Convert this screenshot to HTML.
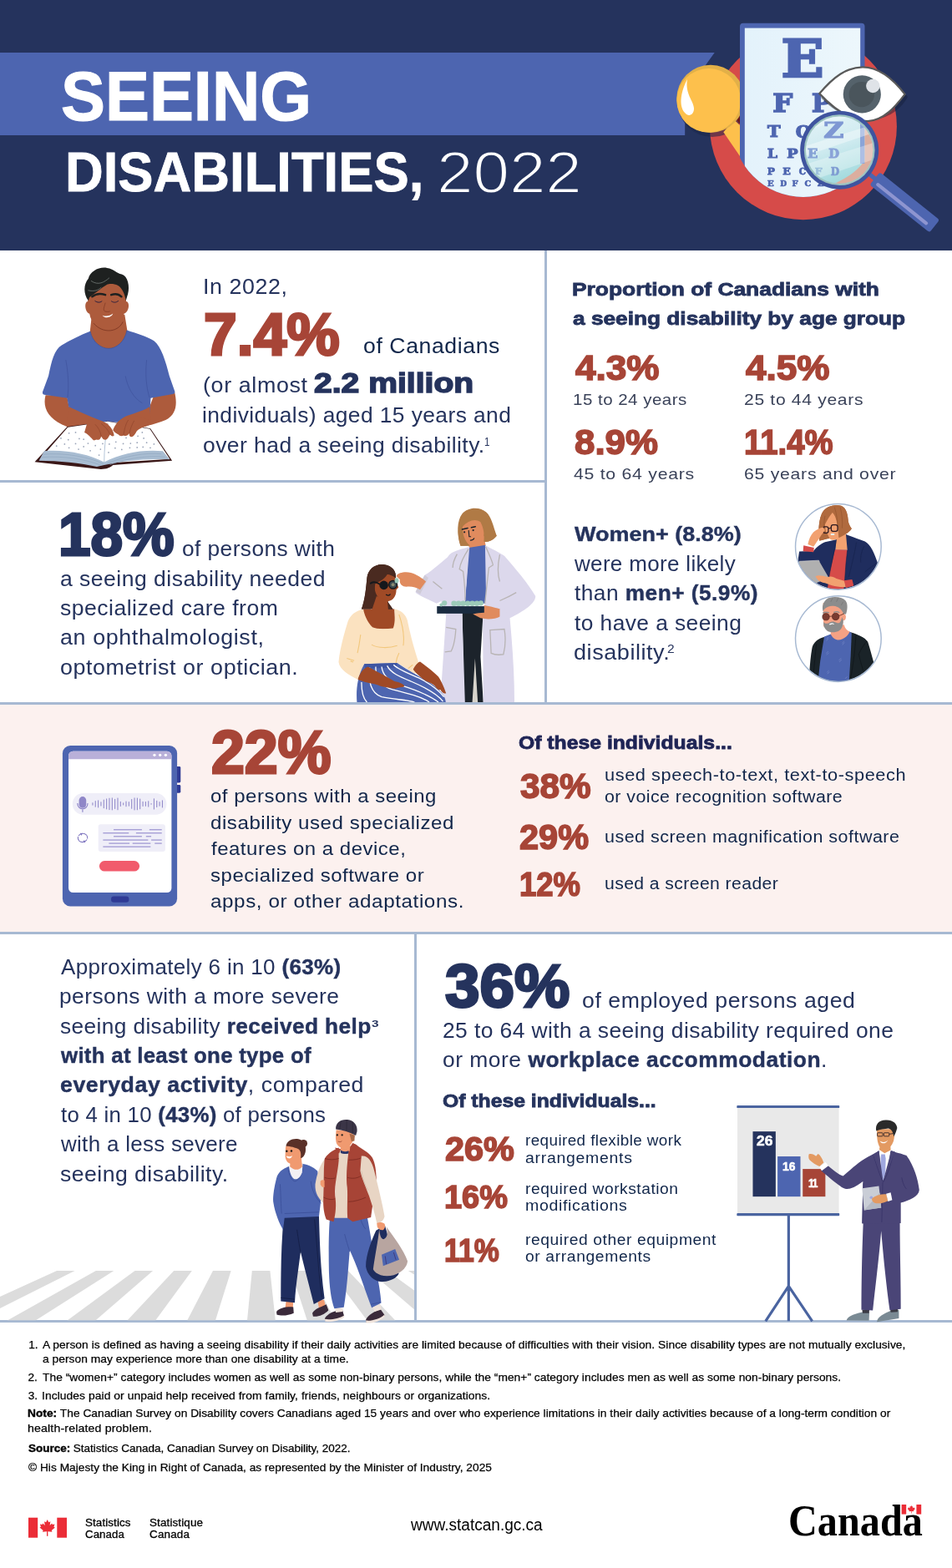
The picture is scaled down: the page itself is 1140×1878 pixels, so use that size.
<!DOCTYPE html>
<html lang="en">
<head>
<meta charset="utf-8">
<title>Seeing disabilities, 2022</title>
<style>
html,body{margin:0;padding:0;background:#fff;}
body{width:1140px;height:1878px;overflow:hidden;font-family:"Liberation Sans",sans-serif;}
#page{position:relative;width:1140px;height:1878px;overflow:hidden;background:#fff;}
#art{position:absolute;left:0;top:0;display:block;}
.t{position:absolute;white-space:nowrap;color:#25335d;font-weight:400;transform-origin:0 50%;margin:0;padding:0;}
.t b{font-weight:700;-webkit-text-stroke:0.4px currentColor;}
.b{font-weight:700;}

</style>
</head>
<body>
<div id="page">
<svg id="art" width="1140" height="1878" viewBox="0 0 1140 1878">
<!-- base -->
<g id="base">
<rect x="0" y="0" width="1140" height="300" fill="#25335d"/>
<polygon points="0,63 855.7,63 820.2,112.6 820.2,162 0,162" fill="#4d65b0"/>
<rect x="0" y="843" width="1140" height="275" fill="#fcf1ef"/>
<g fill="#a7b9d2">
<rect x="652" y="300" width="3" height="543"/>
<rect x="0" y="575" width="653" height="3"/>
<rect x="0" y="841" width="1140" height="3"/>
<rect x="0" y="1116" width="1140" height="3"/>
<rect x="496" y="1118" width="3" height="465"/>
<rect x="0" y="1581" width="1140" height="3"/>
</g>
</g>

<!-- header -->
<g id="header-art">
<defs>
<clipPath id="paperclip"><path d="M880,20 H1045 V151.2 A84.8,84.8 0 0 1 1046.7,151.2 L1046.7,151.2 A84.8,84.8 0 0 1 877.1,151.2 L880,151.2 Z"/></clipPath>
<clipPath id="lensclip"><circle cx="1005.2" cy="179.7" r="40.2"/></clipPath>
<linearGradient id="glass" x1="0" y1="0" x2="0.35" y2="1"><stop offset="0" stop-color="#e4f3f8"/><stop offset="0.55" stop-color="#cdeaef"/><stop offset="1" stop-color="#a4dbde"/></linearGradient>
<linearGradient id="paperg" x1="0" y1="0" x2="1" y2="0"><stop offset="0" stop-color="#e3f2fb"/><stop offset="1" stop-color="#edf7fc"/></linearGradient>
</defs>
<circle cx="961.9" cy="151.2" r="112" fill="#d64b49"/>
<ellipse cx="853" cy="124" rx="41" ry="40" fill="#1c2748" opacity="0.55"/>
<path d="M866.3,158.2 L879,143.2 L887,151 L887,188.5 Z" fill="#fdc04c"/>
<path d="M881,141.5 L887,139 L887,150 Z" fill="#6b1a1a"/>
<circle cx="850.8" cy="118.3" r="40.6" fill="#e2b048"/>
<circle cx="848.7" cy="120.3" r="38.3" fill="#fdc04c"/>
<path d="M823,95 C816,108 812,126 820,135 C825,141 831,137 831,130 C831,121 820,113 823,95 Z" fill="#ffffff"/>
<g clip-path="url(#paperclip)">
<rect x="886" y="27.8" width="149.5" height="230" rx="4" fill="#4d65b0"/>
<rect x="891.8" y="33.6" width="138.4" height="230" fill="url(#paperg)"/>
</g>
<g clip-path="url(#paperclip)">
<text transform="translate(935.56,91.60) scale(0.6698,0.6128)" font-family="'DejaVu Serif', 'Liberation Serif', serif" font-weight="bold" font-size="100" fill="#4d65b0" stroke="#4d65b0" stroke-width="4.05" stroke-linejoin="miter">E</text>
<text transform="translate(925.22,133.50) scale(0.3368,0.2914)" font-family="'DejaVu Serif', 'Liberation Serif', serif" font-weight="bold" font-size="100" fill="#4d65b0" stroke="#4d65b0" stroke-width="5.09" stroke-linejoin="miter">F</text>
<text transform="translate(972.04,133.50) scale(0.3113,0.2914)" font-family="'DejaVu Serif', 'Liberation Serif', serif" font-weight="bold" font-size="100" fill="#4d65b0" stroke="#4d65b0" stroke-width="5.31" stroke-linejoin="miter">P</text>
<text transform="translate(918.90,164.40) scale(0.2097,0.1920)" font-family="'DejaVu Serif', 'Liberation Serif', serif" font-weight="bold" font-size="100" fill="#4d65b0" stroke="#4d65b0" stroke-width="5.97" stroke-linejoin="miter">T</text>
<text transform="translate(952.63,164.70) scale(0.2158,0.1960)" font-family="'DejaVu Serif', 'Liberation Serif', serif" font-weight="bold" font-size="100" fill="#4d65b0" stroke="#4d65b0" stroke-width="5.83" stroke-linejoin="miter">O</text>
<text transform="translate(918.68,189.10) scale(0.1748,0.1539)" font-family="'DejaVu Serif', 'Liberation Serif', serif" font-weight="bold" font-size="100" fill="#4d65b0" stroke="#4d65b0" stroke-width="6.08" stroke-linejoin="miter">L</text>
<text transform="translate(942.27,189.10) scale(0.1775,0.1539)" font-family="'DejaVu Serif', 'Liberation Serif', serif" font-weight="bold" font-size="100" fill="#4d65b0" stroke="#4d65b0" stroke-width="6.04" stroke-linejoin="miter">P</text>
<text transform="translate(918.83,208.60) scale(0.1222,0.1157)" font-family="'DejaVu Serif', 'Liberation Serif', serif" font-weight="bold" font-size="100" fill="#4d65b0" stroke="#4d65b0" stroke-width="6.72" stroke-linejoin="miter">P</text>
<text transform="translate(937.21,208.60) scale(0.1250,0.1157)" font-family="'DejaVu Serif', 'Liberation Serif', serif" font-weight="bold" font-size="100" fill="#4d65b0" stroke="#4d65b0" stroke-width="6.65" stroke-linejoin="miter">E</text>
<text transform="translate(956.77,208.70) scale(0.1043,0.1160)" font-family="'DejaVu Serif', 'Liberation Serif', serif" font-weight="bold" font-size="100" fill="#4d65b0" stroke="#4d65b0" stroke-width="7.26" stroke-linejoin="miter">C</text>
<text transform="translate(918.81,223.10) scale(0.1042,0.0885)" font-family="'DejaVu Serif', 'Liberation Serif', serif" font-weight="bold" font-size="100" fill="#4d65b0" stroke="#4d65b0" stroke-width="6.23" stroke-linejoin="miter">E</text>
<text transform="translate(934.17,223.10) scale(0.0909,0.0885)" font-family="'DejaVu Serif', 'Liberation Serif', serif" font-weight="bold" font-size="100" fill="#4d65b0" stroke="#4d65b0" stroke-width="6.69" stroke-linejoin="miter">D</text>
<text transform="translate(948.54,223.10) scale(0.0990,0.0885)" font-family="'DejaVu Serif', 'Liberation Serif', serif" font-weight="bold" font-size="100" fill="#4d65b0" stroke="#4d65b0" stroke-width="6.40" stroke-linejoin="miter">F</text>
<text transform="translate(963.50,223.20) scale(0.0974,0.0893)" font-family="'DejaVu Serif', 'Liberation Serif', serif" font-weight="bold" font-size="100" fill="#4d65b0" stroke="#4d65b0" stroke-width="6.43" stroke-linejoin="miter">C</text>
<text transform="translate(978.77,223.10) scale(0.1057,0.0885)" font-family="'DejaVu Serif', 'Liberation Serif', serif" font-weight="bold" font-size="100" fill="#4d65b0" stroke="#4d65b0" stroke-width="6.18" stroke-linejoin="miter">Z</text>
<text transform="translate(993.82,223.10) scale(0.1018,0.0885)" font-family="'DejaVu Serif', 'Liberation Serif', serif" font-weight="bold" font-size="100" fill="#4d65b0" stroke="#4d65b0" stroke-width="6.30" stroke-linejoin="miter">P</text>
</g>
<path d="M983,117 C1002,92 1062,84 1087,116 C1068,150 1020,156 983,117 Z" fill="#131c38" opacity="0.45"/>
<path d="M981.3,112.1 C998,92 1014,80.5 1033,80.3 C1052,80.5 1070,95 1083.6,112.9 C1072,128 1058,144.5 1039,145.2 C1018,144.5 998,130 981.3,112.1 Z" fill="#ffffff" stroke="#595959" stroke-width="2.3" stroke-linejoin="round"/>
<circle cx="1032.3" cy="112.9" r="22.6" fill="#55626b"/>
<circle cx="1031.8" cy="113.1" r="15.2" fill="#4a555c"/>
<circle cx="1045.3" cy="103" r="8.2" fill="#dfe3e8"/>
<g transform="translate(1047.5,213.7) rotate(38.66)">
<rect x="-12" y="-2.6" width="16" height="5.2" fill="#4d65b0"/>
<rect x="0" y="-9.7" width="91.6" height="19.4" rx="3" fill="#4d65b0"/>
<rect x="5.5" y="1.3" width="78.1" height="4.2" rx="2.1" fill="#8e95d0"/>
</g>
<circle cx="1005.2" cy="179.7" r="47" fill="#3f549f"/>
<circle cx="1005.2" cy="179.7" r="42.4" fill="#9dc4c1"/>
<circle cx="1005.2" cy="179.7" r="40.2" fill="url(#glass)"/>
<g clip-path="url(#lensclip)">
<path d="M1035.3,130 H1060 V240 H960 V225 A84.8,84.8 0 0 0 1035.3,193 Z" fill="#dcae9f"/>
<rect x="1030" y="130" width="5.3" height="66" fill="#8aa4d8"/>
<path d="M955,178 L1055,146 L1055,156 L955,190 Z" fill="#ffffff" opacity="0.38"/>
<path d="M955,200 L1055,168 L1055,188 L955,222 Z" fill="#ffffff" opacity="0.30"/>
<path d="M955,150 L1055,120 L1055,128 L955,160 Z" fill="#ffffff" opacity="0.25"/>
<text transform="translate(986.16,165.10) scale(0.3319,0.2628)" font-family="'DejaVu Serif', 'Liberation Serif', serif" font-weight="bold" font-size="100" fill="#7f98d3" stroke="#7f98d3" stroke-width="4.71" stroke-linejoin="miter">Z</text>
<text transform="translate(966.89,189.35) scale(0.1622,0.1552)" font-family="'DejaVu Serif', 'Liberation Serif', serif" font-weight="bold" font-size="100" fill="#86a3d6" stroke="#86a3d6" stroke-width="5.67" stroke-linejoin="miter">E</text>
<text transform="translate(992.36,189.35) scale(0.1472,0.1552)" font-family="'DejaVu Serif', 'Liberation Serif', serif" font-weight="bold" font-size="100" fill="#8aa3d8" stroke="#8aa3d8" stroke-width="5.95" stroke-linejoin="miter">D</text>
<text transform="translate(975.77,209.15) scale(0.1234,0.1144)" font-family="'DejaVu Serif', 'Liberation Serif', serif" font-weight="bold" font-size="100" fill="#9cc0dc" stroke="#9cc0dc" stroke-width="5.89" stroke-linejoin="miter">F</text>
<text transform="translate(995.11,209.65) scale(0.1152,0.1212)" font-family="'DejaVu Serif', 'Liberation Serif', serif" font-weight="bold" font-size="100" fill="#7f9bd2" stroke="#7f9bd2" stroke-width="5.92" stroke-linejoin="miter">D</text>
</g>
</g>

<!-- man -->
<g id="man" transform="translate(30,310) scale(0.175439)">
<!-- arms (behind shirt) -->
<path d="M140,930 C120,1010 150,1080 250,1130 C330,1165 400,1190 440,1215 L470,1240 L560,1235 L605,1200 C600,1160 580,1130 540,1115 C470,1085 360,1040 300,1010 L285,930 Z" fill="#ad5b3c"/>
<path d="M1020,905 C1040,990 1035,1060 960,1100 C900,1125 830,1140 770,1160 L725,1210 L640,1205 L600,1170 C610,1130 650,1090 700,1070 C760,1050 820,1030 850,1010 L880,930 Z" fill="#ad5b3c"/>
<!-- neck -->
<path d="M456,380 L680,380 L698,492 C682,572 622,616 570,616 C518,616 458,572 443,498 Z" fill="#ad5b3c"/>
<!-- shirt -->
<path d="M445,495 C460,570 520,612 570,612 C620,612 680,570 695,488 C760,510 830,530 880,560 C930,600 960,700 985,800 L1022,905 C1024,915 1018,922 1008,924 L858,950 L848,1090 L838,1140 C760,1110 700,1110 640,1116 L430,1114 L300,1020 L287,950 L132,928 C122,926 118,918 120,908 L160,800 C180,700 200,620 250,590 C310,555 380,520 445,495 Z" fill="#4d65b0"/>
<path d="M445,495 C460,570 520,612 570,612 C620,612 680,570 695,488" fill="none" stroke="#3c509a" stroke-width="4"/>
<path d="M278,690 C295,780 300,870 290,948 M830,690 C820,780 825,870 850,948 M685,800 C700,880 740,950 800,985" fill="none" stroke="#3c509a" stroke-width="3.5"/>
<!-- hands over shirt -->
<path d="M300,1010 C360,1040 470,1085 540,1115 C580,1130 600,1160 605,1200 L590,1215 L560,1235 L520,1232 L470,1240 L430,1205 C400,1180 340,1160 280,1140 Z" fill="#ad5b3c"/>
<path d="M850,1010 C820,1030 760,1050 700,1070 C650,1090 610,1130 600,1170 L640,1205 L680,1200 L725,1210 L770,1160 C800,1150 830,1140 860,1130 Z" fill="#ad5b3c"/>
<path d="M470,1120 L520,1180 M505,1115 L555,1175 M700,1090 L660,1150 M735,1095 L690,1160" stroke="#8c4229" stroke-width="4" fill="none"/>
<!-- face -->
<path d="M428,290 C405,290 405,360 440,375 C450,440 510,488 572,488 C635,488 665,440 675,375 C715,360 715,290 690,290 L680,150 L440,150 Z" fill="#ad5b3c"/>
<path d="M468,440 C500,478 540,490 572,490 C610,490 650,470 668,430" fill="none" stroke="#7e3722" stroke-width="5"/>
<!-- hair -->
<path d="M432,285 C398,240 398,175 432,135 C445,85 505,52 560,62 C605,68 625,98 660,106 C702,118 716,190 702,240 L688,286 C682,240 662,200 635,182 C605,168 575,170 558,176 C520,198 478,236 440,262 Z" fill="#1e2120"/>
<path d="M450,150 C500,185 540,160 575,130 M430,215 C470,225 500,215 520,195" fill="none" stroke="#6b726f" stroke-width="5"/>
<!-- brows, eyes, nose, mouth -->
<path d="M458,258 C485,236 520,236 548,246 M588,246 C615,236 640,240 658,258" fill="none" stroke="#1e2120" stroke-width="14" stroke-linecap="round"/>
<path d="M478,288 C495,300 510,300 524,290 M590,290 C605,300 620,300 636,288" fill="none" stroke="#1b1840" stroke-width="5" stroke-linecap="round"/>
<path d="M548,300 C540,330 530,350 545,358 C555,362 570,362 580,358" fill="none" stroke="#7e3722" stroke-width="4"/>
<path d="M528,386 C550,395 580,392 600,374 C592,400 548,412 528,386 Z" fill="#ffffff"/>
<!-- book -->
<path d="M66,1386 L288,1146 L565,1108 L856,1158 L1004,1378 L600,1408 C580,1428 540,1442 490,1434 Z" fill="#3a1717"/>
<path d="M100,1370 L292,1150 L565,1110 L852,1162 L988,1366 L545,1395 Z" fill="#ffffff"/>
<path d="M130,1312 C270,1300 430,1330 540,1388 C660,1325 800,1300 940,1312 L988,1370 C830,1360 660,1380 540,1408 L490,1420 C380,1395 230,1378 95,1378 Z" fill="#a9bdd2"/>
<path d="M120,1335 C270,1322 430,1350 535,1400 M110,1355 C260,1342 420,1370 520,1410 M560,1398 C680,1345 820,1322 930,1332 M580,1405 C700,1360 840,1342 955,1352" fill="none" stroke="#8ea5be" stroke-width="3.5"/>
<path d="M565,1120 C550,1200 540,1300 540,1390" fill="none" stroke="#a9bdd2" stroke-width="5"/>
<g fill="#9aa4b8">
<circle cx="300" cy="1190" r="5"/><circle cx="345" cy="1185" r="5"/><circle cx="245" cy="1225" r="5"/><circle cx="295" cy="1235" r="5"/><circle cx="370" cy="1228" r="5"/><circle cx="400" cy="1232" r="5"/>
<circle cx="215" cy="1278" r="5"/><circle cx="270" cy="1265" r="5"/><circle cx="345" cy="1262" r="5"/><circle cx="430" cy="1260" r="5"/><circle cx="480" cy="1275" r="5"/><circle cx="300" cy="1290" r="5"/>
<circle cx="365" cy="1300" r="5"/><circle cx="400" cy="1282" r="5"/><circle cx="445" cy="1310" r="5"/><circle cx="515" cy="1300" r="5"/><circle cx="505" cy="1340" r="5"/><circle cx="530" cy="1262" r="5"/>
<circle cx="575" cy="1265" r="5"/><circle cx="620" cy="1250" r="5"/><circle cx="670" cy="1262" r="5"/><circle cx="720" cy="1260" r="5"/><circle cx="765" cy="1255" r="5"/><circle cx="810" cy="1225" r="5"/>
<circle cx="770" cy="1210" r="5"/><circle cx="830" cy="1255" r="5"/><circle cx="880" cy="1265" r="5"/><circle cx="615" cy="1292" r="5"/><circle cx="660" cy="1302" r="5"/><circle cx="715" cy="1290" r="5"/>
<circle cx="765" cy="1288" r="5"/><circle cx="805" cy="1285" r="5"/><circle cx="855" cy="1290" r="5"/><circle cx="570" cy="1322" r="5"/><circle cx="800" cy="1185" r="5"/><circle cx="690" cy="1222" r="5"/>
</g>
<!-- hands on top of book -->
<path d="M430,1100 C470,1090 520,1100 560,1125 C590,1150 605,1180 608,1205 C600,1215 590,1212 580,1200 C570,1215 565,1232 548,1236 C535,1236 528,1225 520,1212 C515,1232 500,1240 488,1234 L470,1240 C450,1222 430,1195 405,1185 Z" fill="#ad5b3c"/>
<path d="M600,1170 C612,1130 650,1090 700,1075 C750,1065 800,1080 840,1100 L830,1140 C800,1150 770,1165 760,1180 C750,1200 735,1222 720,1214 C712,1210 710,1200 712,1192 C700,1210 685,1212 672,1205 C660,1212 645,1210 638,1200 C628,1195 615,1190 600,1170 Z" fill="#ad5b3c"/>
<path d="M478,1130 C500,1150 515,1180 520,1212 M520,1125 C545,1145 570,1170 580,1200 M705,1100 C690,1120 678,1160 672,1205 M745,1105 C730,1130 718,1160 712,1192" fill="none" stroke="#8c4229" stroke-width="3.5"/>
</g>

<!-- doctor -->
<g id="doctor" transform="translate(400,600) scale(0.219298)">
<defs><clipPath id="docclip"><rect x="0" y="0" width="1140" height="1099"/></clipPath></defs>
<g clip-path="url(#docclip)">
<!-- ===== doctor ===== -->
<!-- hair back -->
<path d="M690,245 C670,180 670,110 700,70 C730,35 790,30 830,60 C860,85 870,140 888,190 C870,215 840,225 815,222 L800,120 L720,120 L740,245 Z" fill="#b07a45"/>
<!-- neck -->
<path d="M740,200 L820,190 L830,260 L735,262 Z" fill="#e08b5e"/>
<!-- face -->
<path d="M700,130 C700,100 740,85 790,95 C815,100 825,130 822,160 C822,200 800,235 765,245 C735,250 712,225 705,195 Z" fill="#e08b5e"/>
<path d="M682,135 C680,95 705,50 760,42 C805,38 835,62 850,100 C862,140 872,172 888,190 C862,220 832,226 818,222 C822,185 818,150 800,115 C770,95 735,105 700,142 Z" fill="#b07a45"/>
<path d="M692,245 C675,200 676,160 684,128 L702,140 C700,180 714,220 742,244 Z" fill="#b07a45"/>
<path d="M700,155 L730,148 M750,145 L772,140" stroke="#1c232b" stroke-width="7" stroke-linecap="round"/>
<circle cx="712" cy="170" r="5" fill="#1c232b"/><circle cx="760" cy="160" r="5" fill="#1c232b"/>
<path d="M735,160 L738,195 L748,195" fill="none" stroke="#1c232b" stroke-width="5"/>
<path d="M745,215 C755,215 762,210 765,204" fill="none" stroke="#1c232b" stroke-width="5" stroke-linecap="round"/>
<!-- pants -->
<path d="M700,600 L815,600 L800,850 L815,1099 L710,1099 Z" fill="#1c232b"/>
<path d="M770,860 L785,1099 L755,1099 Z" fill="#d8d4cc"/>
<!-- shirt -->
<path d="M735,255 L828,240 L835,560 L715,560 Z" fill="#4d65b0"/>
<!-- coat body -->
<path d="M740,250 C700,262 660,272 640,285 C600,310 600,400 595,470 L585,560 L612,620 C600,800 590,950 580,1099 L715,1099 L700,620 L718,520 Z" fill="#dcd8ec"/>
<path d="M825,242 C860,262 900,280 930,300 C990,370 1060,450 1100,520 C1100,560 1040,600 960,640 C975,800 985,950 985,1099 L815,1099 L812,620 L830,520 Z" fill="#dcd8ec"/>
<!-- arm reaching to patient -->
<path d="M650,285 C600,320 540,380 495,405 L445,500 C470,520 520,540 560,560 L640,520 Z" fill="#dcd8ec"/>
<path d="M495,405 L445,495 L470,510 L515,420 Z" fill="#cfcbd8"/>
<!-- hand -->
<path d="M340,410 C350,390 390,385 420,392 C450,400 480,420 502,440 L470,485 C450,470 420,465 395,468 C370,468 355,450 360,430 Z" fill="#e08b5e"/>
<!-- coat lines -->
<path d="M735,262 C710,300 690,340 685,372 L705,385 C712,440 716,500 716,545 M828,250 C850,300 865,330 868,350 L845,365 C838,430 830,500 824,560 M672,290 C655,320 648,345 648,365 M905,292 C895,340 892,400 905,440 M540,440 L590,480 M905,545 C940,530 970,515 995,500" fill="none" stroke="#b8b4b4" stroke-width="6"/>
<path d="M612,690 L665,700 C662,750 655,790 640,820 L605,825 M852,705 L930,700 C938,750 935,800 925,838 C900,842 875,840 858,832 Z" fill="none" stroke="#b8b4b4" stroke-width="6"/>
<!-- tray -->
<rect x="562" y="575" width="260" height="40" fill="#1a2b40"/>
<g fill="#9ccab9"><circle cx="603" cy="558" r="14"/><circle cx="655" cy="560" r="15"/><circle cx="680" cy="560" r="15"/><circle cx="705" cy="560" r="15"/><circle cx="730" cy="560" r="15"/><circle cx="755" cy="560" r="15"/><circle cx="780" cy="560" r="15"/><circle cx="802" cy="558" r="14"/><circle cx="585" cy="568" r="9"/></g>
<!-- right hand under tray -->
<path d="M820,570 C850,575 890,585 912,592 L908,630 C880,645 840,650 800,640 L758,618 C780,612 800,612 820,610 Z" fill="#e08b5e"/>
<path d="M905,590 C925,580 935,585 940,600 C945,620 940,650 935,660 L905,655 Z" fill="#dcd8ec"/>
<!-- ===== patient ===== -->
<!-- hair -->
<path d="M150,590 C170,540 175,470 180,420 C185,370 230,340 275,348 C320,355 340,385 338,420 L300,430 L285,540 L322,592 Z" fill="#4a2a20"/>
<!-- neck & chest -->
<path d="M160,590 L330,590 L335,700 L160,700 Z" fill="#a04a26"/>
<!-- face -->
<path d="M222,470 C222,430 260,395 300,400 C330,405 340,425 342,445 L352,472 L340,486 C340,520 322,548 290,548 C255,548 222,520 222,470 Z" fill="#a04a26"/>
<path d="M232,520 L295,545 L300,600 L205,600 Z" fill="#a04a26"/>
<path d="M180,420 C185,370 230,340 275,348 C320,355 338,385 338,420 C320,410 300,400 290,402 C270,430 250,440 225,450 C220,500 210,550 200,590 L150,590 C170,540 175,470 180,420 Z" fill="#4a2a20"/>
<path d="M292,548 L322,592 L296,592 Z" fill="#4a2a20"/>
<!-- glasses -->
<path d="M200,450 C215,440 235,445 250,455" fill="none" stroke="#15181c" stroke-width="9" stroke-linecap="round"/>
<circle cx="272" cy="460" r="24" fill="#15181c"/>
<circle cx="322" cy="457" r="22" fill="#3a4a50" stroke="#15181c" stroke-width="7"/>
<circle cx="322" cy="457" r="9" fill="#8a8a70"/>
<ellipse cx="342" cy="435" rx="11" ry="14" fill="#9ccab9"/>
<path d="M285,512 C295,518 302,516 306,510" fill="none" stroke="#15181c" stroke-width="6" stroke-linecap="round"/>
<!-- top -->
<path d="M160,592 C120,600 90,620 75,660 C50,740 30,820 25,880 C30,920 80,950 130,975 L160,900 L165,890 L345,885 C370,900 420,930 440,945 L470,905 C450,850 420,750 400,650 C390,615 360,595 330,590 C335,640 330,680 322,695 C280,700 230,700 210,690 C180,660 165,620 160,592 Z" fill="#fbe2c0"/>
<path d="M355,620 C375,680 385,740 378,790 M205,785 C240,805 300,805 345,790 M145,730 C140,770 135,800 128,830 M355,830 C345,850 340,870 338,885 M70,860 L110,872 M90,875 L105,880 M430,895 L405,915" fill="none" stroke="#f2c77c" stroke-width="5"/>
<!-- skirt -->
<path d="M165,890 L345,885 C380,910 450,950 520,990 C580,1030 610,1070 610,1099 L125,1099 C120,1040 125,960 165,890 Z" fill="#4d65b0"/>
<path d="M165,890 L345,885 L340,910 L170,915 Z" fill="#3f56a2"/>
<path d="M150,990 C150,1040 160,1080 180,1099 M195,910 C185,980 200,1050 260,1070 C330,1085 400,1085 440,1099 M228,905 C225,960 250,1010 320,1030 C400,1050 480,1070 520,1099 M260,905 C265,950 300,985 360,1005 C440,1030 520,1060 570,1099 M290,900 C310,940 360,960 420,985 C490,1015 560,1050 595,1095 M325,895 C350,920 400,940 460,965 C510,990 570,1030 600,1070" fill="none" stroke="#ffffff" stroke-width="6"/>
<!-- hands on lap -->
<path d="M130,975 C140,940 160,915 185,905 C230,930 290,960 330,985 C360,990 380,1000 385,1012 C370,1020 350,1015 335,1025 C300,1020 260,1015 240,1005 C200,995 160,990 130,975 Z" fill="#a04a26"/>
<path d="M432,920 C445,895 460,880 470,878 C500,900 540,930 570,960 C590,990 605,1030 612,1050 C600,1055 590,1045 580,1030 C570,1035 560,1025 550,1010 C540,1000 520,990 505,985 C480,970 450,945 432,920 Z" fill="#a04a26"/>
</g>
</g>

<!-- circles -->
<g id="circles">
<defs>
<clipPath id="cw"><circle cx="560" cy="525" r="446"/></clipPath>
<clipPath id="cm"><circle cx="560" cy="527" r="446"/></clipPath>
</defs>
<!-- woman -->
<g transform="translate(940,595) scale(0.114035)">
<circle cx="560" cy="525" r="450" fill="#ffffff"/>
<g clip-path="url(#cw)">
<!-- hair back -->
<path d="M360,460 C350,380 350,260 385,180 C420,100 520,75 590,95 C650,115 660,200 665,260 C675,300 690,320 700,335 C670,380 610,410 560,430 L450,440 Z" fill="#b06a3e"/>
<!-- neck -->
<path d="M535,400 L650,395 L660,560 L530,560 Z" fill="#f2a170"/>
<!-- face -->
<path d="M420,300 C420,230 460,170 500,165 L560,250 L565,420 C540,455 500,460 475,445 C440,420 425,360 420,300 Z" fill="#f2a170"/>
<!-- hair front -->
<path d="M500,165 C470,200 440,250 415,300 C400,350 380,420 362,462 C350,380 350,260 385,180 C420,100 520,75 590,95 C650,115 660,200 665,260 C675,300 690,320 700,335 C670,380 610,410 565,432 C560,380 555,300 540,250 C530,210 515,180 500,165 Z" fill="#b06a3e"/>
<path d="M362,462 C400,455 440,440 465,430 L440,380 L400,390 Z" fill="#b06a3e"/>
<path d="M520,110 C540,170 550,240 552,300 M580,110 C600,180 605,260 600,330 M420,200 C410,250 408,300 410,330" fill="none" stroke="#8f4f2a" stroke-width="5"/>
<!-- glasses -->
<rect x="400" y="315" width="55" height="65" rx="18" fill="none" stroke="#2a1820" stroke-width="11"/>
<rect x="485" y="295" width="68" height="68" rx="20" fill="none" stroke="#2a1820" stroke-width="11"/>
<path d="M455,335 L485,325" stroke="#2a1820" stroke-width="9"/>
<rect x="480" y="385" width="40" height="18" rx="6" fill="#e8f0f8"/>
<!-- blazer -->
<path d="M640,395 C700,420 780,445 840,470 C900,500 940,600 975,700 L990,980 L100,980 L140,640 L150,575 L300,568 C330,530 380,490 420,475 L540,450 L530,560 L655,560 Z" fill="#1f2d5e"/>
<!-- red top -->
<path d="M525,555 L655,560 L640,700 L620,980 L440,980 L470,800 Z" fill="#d64b49"/>
<path d="M540,450 L470,800 L440,980 M655,560 L640,700 L620,980 M750,480 C730,600 700,720 670,840 M830,520 C800,580 790,640 795,690 M960,700 C900,740 860,770 840,790" fill="none" stroke="#15214a" stroke-width="5"/>
<!-- raised hand -->
<path d="M240,500 C250,450 270,400 300,370 C330,345 370,325 400,320 L420,350 C400,380 380,400 370,420 C350,450 320,490 300,525 Z" fill="#f2a170"/>
<path d="M195,510 L305,535 L300,580 L190,572 Z" fill="#d64b49"/>
<!-- tablet -->
<path d="M150,678 L355,668 L460,850 L330,905 L250,980 L100,980 Z" fill="#b0b0b0"/>
<path d="M150,678 L355,668 L362,680" fill="none" stroke="#d0d0d0" stroke-width="6"/>
<!-- lower hand -->
<path d="M320,835 C350,820 400,830 450,845 C480,830 510,840 540,860 L630,885 L640,950 C560,950 480,930 420,905 C380,900 340,880 320,835 Z" fill="#f2a170"/>
<path d="M620,880 L705,868 L722,935 L640,955 Z" fill="#d64b49"/>
</g>
<circle cx="560" cy="525" r="450" fill="none" stroke="#a7b9d2" stroke-width="13"/>
</g>
<!-- man -->
<g transform="translate(940,705) scale(0.114035)">
<circle cx="560" cy="527" r="450" fill="#ffffff"/>
<g clip-path="url(#cm)">
<!-- jacket -->
<path d="M410,508 C350,525 300,560 285,620 C270,700 262,800 255,900 L250,990 L950,990 L930,770 C910,700 890,620 870,560 C840,510 760,480 690,458 Z" fill="#1a2328"/>
<!-- shirt -->
<path d="M412,505 L480,478 L680,452 L700,470 L690,700 L672,990 L345,990 L370,760 Z" fill="#4d65b0"/>
<path d="M745,480 C740,600 720,780 690,940 M860,550 C820,600 790,650 775,690 C790,760 810,820 820,860 M330,580 C320,680 310,780 300,880" fill="none" stroke="#0c1216" stroke-width="5"/>
<path d="M435,530 L455,508 M435,548 L458,522 M600,575 L622,550 M602,592 L625,565 M432,680 L455,658 M437,697 L462,672 M565,755 L590,730 M568,772 L595,745 M440,880 L462,860 M445,897 L468,874 M630,945 L655,925" stroke="#7d90cc" stroke-width="5" fill="none"/>
<!-- neck -->
<path d="M480,400 L620,380 C630,420 650,440 680,452 C660,500 610,540 555,540 C520,535 495,510 480,478 Z" fill="#f4a184"/>
<!-- face -->
<path d="M400,150 L610,150 L615,265 C640,262 645,300 635,320 C628,335 618,335 612,332 L605,400 L405,400 Z" fill="#f4a184"/>
<!-- beard -->
<path d="M405,350 C420,370 450,372 470,355 C490,340 520,345 545,360 C570,370 590,350 598,300 L612,330 C612,380 600,420 570,440 C530,465 470,465 440,440 C415,420 402,390 405,350 Z" fill="#8c8c8c"/>
<path d="M462,378 C475,360 500,355 518,372 C510,380 500,372 490,374 C480,376 472,384 462,378 Z" fill="#ffffff"/>
<!-- hair -->
<path d="M395,215 C390,160 420,110 470,95 C530,80 600,90 635,125 C665,160 655,230 640,270 L612,262 C600,220 560,185 510,182 C460,182 420,195 400,240 Z" fill="#8c8c8c"/>
<path d="M500,100 L480,140 M560,95 L540,140 M610,140 L590,175" stroke="#6f6f6f" stroke-width="5"/>
<path d="M400,255 C415,245 440,245 458,252 M515,248 C535,240 555,242 568,250" fill="none" stroke="#8c8c8c" stroke-width="12" stroke-linecap="round"/>
<!-- sunglasses -->
<circle cx="430" cy="296" r="36" fill="#7a3b30" stroke="#5a2a22" stroke-width="7"/>
<circle cx="532" cy="294" r="36" fill="#7a3b30" stroke="#5a2a22" stroke-width="7"/>
<path d="M466,292 L496,290 M568,286 L622,262" stroke="#5a2a22" stroke-width="7"/>
</g>
<circle cx="560" cy="527" r="450" fill="none" stroke="#a7b9d2" stroke-width="13"/>
</g>
</g>

<!-- tablet -->
<g id="tablet" transform="translate(60,880) scale(0.149123)">
<rect x="1010" y="255" width="38" height="130" rx="10" fill="#2e3a95"/>
<rect x="1010" y="403" width="38" height="65" rx="10" fill="#2e3a95"/>
<rect x="100" y="88" width="920" height="1290" rx="62" fill="#4d65b0"/>
<rect x="148" y="132" width="827" height="1136" rx="36" fill="#ffffff"/>
<path d="M148,196 V168 A36,36 0 0 1 184,132 H939 A36,36 0 0 1 975,168 V196 Z" fill="#b9b0d9"/>
<circle cx="838" cy="163" r="11" fill="#fff"/><circle cx="883" cy="163" r="11" fill="#fff"/><circle cx="928" cy="163" r="11" fill="#fff"/>
<rect x="490" y="1297" width="143" height="50" rx="22" fill="#2e3a95"/>
<rect x="180" y="470" width="755" height="172" rx="86" fill="#efeef8"/>
<rect x="232" y="497" width="58" height="92" rx="29" fill="#8f87c8"/>
<path d="M220,550 C220,610 302,610 302,550" fill="none" stroke="#8f87c8" stroke-width="8"/>
<path d="M261,598 V622" stroke="#8f87c8" stroke-width="8"/>
<rect x="338" y="545" width="7" height="22" fill="#8f87c8"/>
<rect x="360.4" y="531" width="7" height="50" fill="#8f87c8"/>
<rect x="382.79999999999995" y="526" width="7" height="60" fill="#8f87c8"/>
<rect x="405.19999999999993" y="539" width="7" height="34" fill="#8f87c8"/>
<rect x="427.5999999999999" y="521" width="7" height="70" fill="#8f87c8"/>
<rect x="449.9999999999999" y="513" width="7" height="86" fill="#8f87c8"/>
<rect x="472.39999999999986" y="508" width="7" height="96" fill="#8f87c8"/>
<rect x="494.79999999999984" y="506" width="7" height="100" fill="#8f87c8"/>
<rect x="517.1999999999998" y="516" width="7" height="80" fill="#8f87c8"/>
<rect x="539.5999999999998" y="507" width="7" height="98" fill="#8f87c8"/>
<rect x="561.9999999999998" y="536" width="7" height="40" fill="#8f87c8"/>
<rect x="584.3999999999997" y="546" width="7" height="20" fill="#8f87c8"/>
<rect x="606.7999999999997" y="534" width="7" height="44" fill="#8f87c8"/>
<rect x="629.1999999999997" y="538" width="7" height="36" fill="#8f87c8"/>
<rect x="651.5999999999997" y="517" width="7" height="78" fill="#8f87c8"/>
<rect x="673.9999999999997" y="506" width="7" height="100" fill="#8f87c8"/>
<rect x="696.3999999999996" y="507" width="7" height="98" fill="#8f87c8"/>
<rect x="718.7999999999996" y="514" width="7" height="84" fill="#8f87c8"/>
<rect x="741.1999999999996" y="536" width="7" height="40" fill="#8f87c8"/>
<rect x="763.5999999999996" y="537" width="7" height="38" fill="#8f87c8"/>
<rect x="785.9999999999995" y="532" width="7" height="48" fill="#8f87c8"/>
<rect x="808.3999999999995" y="551" width="7" height="10" fill="#8f87c8"/>
<rect x="830.7999999999995" y="512" width="7" height="88" fill="#8f87c8"/>
<rect x="853.1999999999995" y="529" width="7" height="54" fill="#8f87c8"/>
<rect x="875.5999999999995" y="538" width="7" height="36" fill="#8f87c8"/>
<rect x="897.9999999999994" y="526" width="7" height="60" fill="#8f87c8"/>
<path d="M292,805 A42,42 0 0 0 228,812 M232,852 A42,42 0 0 0 296,842" fill="none" stroke="#8077c0" stroke-width="7"/>
<path d="M240,790 L262,792 L250,812 Z M284,866 L262,864 L274,845 Z" fill="#8077c0"/>
<path d="M224,818 A42,42 0 0 0 232,852 M300,836 A42,42 0 0 0 292,805" fill="none" stroke="#8077c0" stroke-width="7"/>
<rect x="387" y="720" width="538" height="218" rx="20" fill="#efeef8"/>
<rect x="510" y="758" width="227" height="9" fill="#a49cd4"/>
<rect x="797" y="758" width="100" height="9" fill="#a49cd4"/>
<rect x="425" y="785" width="207" height="9" fill="#a49cd4"/>
<rect x="690" y="785" width="207" height="9" fill="#a49cd4"/>
<rect x="510" y="812" width="227" height="9" fill="#a49cd4"/>
<rect x="770" y="812" width="42" height="9" fill="#a49cd4"/>
<rect x="425" y="841" width="362" height="9" fill="#a49cd4"/>
<rect x="812" y="841" width="85" height="9" fill="#a49cd4"/>
<rect x="472" y="868" width="166" height="9" fill="#a49cd4"/>
<rect x="662" y="868" width="145" height="9" fill="#a49cd4"/>
<rect x="840" y="868" width="57" height="9" fill="#a49cd4"/>
<rect x="425" y="895" width="382" height="9" fill="#a49cd4"/>
<rect x="395" y="1013" width="323" height="84" rx="42" fill="#f15b6c"/>
</g>

<!-- couple -->
<g id="couple">
<defs><clipPath id="cwclip"><rect x="0" y="1519" width="496" height="62.5"/></clipPath></defs>
<g clip-path="url(#cwclip)" fill="#dcdcdc">
<polygon points="68.0,1522 89.6,1522 -29.2,1581.5 -63.0,1581.5"/>
<polygon points="114.8,1522 136.3,1522 42.6,1581.5 8.8,1581.5"/>
<polygon points="161.5,1522 183.1,1522 114.4,1581.5 80.6,1581.5"/>
<polygon points="208.2,1522 229.8,1522 186.2,1581.5 152.4,1581.5"/>
<polygon points="255.0,1522 276.6,1522 258.0,1581.5 224.2,1581.5"/>
<polygon points="301.8,1522 323.4,1522 329.8,1581.5 296.0,1581.5"/>
<polygon points="348.5,1522 370.1,1522 401.6,1581.5 367.8,1581.5"/>
<polygon points="395.2,1522 416.9,1522 473.4,1581.5 439.6,1581.5"/>
<polygon points="442.0,1522 463.6,1522 545.2,1581.5 511.4,1581.5"/>
<polygon points="488.8,1522 510.4,1522 617.0,1581.5 583.2,1581.5"/>
<polygon points="535.5,1522 557.1,1522 688.8,1581.5 655.0,1581.5"/>
</g>
<g transform="translate(310,1320) scale(0.175439)">
<path d="M185,1361 L235,1361 L232,1406 L180,1406 Z M400,1351 L445,1351 L455,1396 L410,1406 Z" fill="#f09a70"/>
<path d="M120,1431 C140,1406 180,1396 235,1399 L238,1441 C200,1459 150,1461 122,1451 Z" fill="#3a2a3a"/>
<path d="M365,1441 C380,1411 420,1401 460,1381 L475,1421 C450,1451 400,1469 370,1463 Z" fill="#3a2a3a"/>
<path d="M170,781 L410,776 C415,941 420,1141 448,1341 L375,1379 C340,1241 300,1091 285,1021 C270,1141 250,1261 245,1369 L150,1359 C150,1191 150,991 170,781 Z" fill="#1f2d5e"/>
<path d="M260,871 C270,941 280,1001 285,1031 M380,801 C400,991 405,1161 430,1331 M150,1336 L245,1346" fill="none" stroke="#141e46" stroke-width="5"/>
<path d="M205,440 C160,455 130,480 120,520 C105,580 95,640 98,680 C110,760 140,830 165,871 L175,791 L410,781 L420,700 C430,640 410,520 400,470 C370,440 330,425 295,420 Z" fill="#4d65b0"/>
<path d="M200,440 C200,500 230,545 250,540 C280,530 300,480 298,425 M145,560 C150,640 150,700 155,761 M355,540 C360,600 390,660 425,690 M175,761 L410,751" fill="none" stroke="#3c509a" stroke-width="5"/>
<path d="M205,435 L300,418 L295,480 C280,520 260,530 240,525 C220,510 210,480 205,435 Z" fill="#f4f1f4"/>
<path d="M215,395 L290,380 L296,440 C270,470 240,465 212,440 Z" fill="#f09a70"/>
<path d="M182,310 C185,290 220,280 260,290 C290,300 300,330 298,360 C295,395 260,425 225,422 C200,420 182,400 180,370 Z" fill="#f09a70"/>
<path d="M190,370 C200,385 215,385 222,372 C215,375 200,376 190,370 Z" fill="#ffffff" stroke="#ffffff" stroke-width="6"/>
<circle cx="190" cy="335" r="7" fill="#1c1c1c"/><circle cx="222" cy="333" r="7" fill="#1c1c1c"/>
<circle cx="305" cy="282" r="26" fill="#5a3028"/>
<path d="M185,300 C190,265 230,245 270,252 C310,260 325,300 318,340 C312,365 300,380 285,382 C290,350 285,330 270,320 C250,310 215,300 185,300 Z" fill="#5a3028"/>
<path d="M450,1476 C470,1441 520,1421 570,1419 L582,1461 C550,1486 490,1501 452,1493 Z" fill="#3a2a3a"/>
<path d="M450,1481 C490,1489 550,1476 582,1456 L582,1469 C550,1493 490,1505 452,1497 Z" fill="#f0e4dc"/>
<path d="M730,1486 C750,1446 790,1431 830,1413 L860,1456 C830,1491 770,1509 732,1503 Z" fill="#3a2a3a"/>
<path d="M730,1491 C770,1496 830,1479 858,1449 L860,1463 C830,1497 770,1513 732,1507 Z" fill="#f0e4dc"/>
<path d="M520,1406 L575,1406 L570,1431 L525,1436 Z M775,1396 L830,1381 L835,1416 L790,1431 Z" fill="#f0e4dc"/>
<path d="M485,786 L740,786 C760,891 780,1021 800,1141 C815,1221 830,1301 835,1371 L770,1403 C730,1301 680,1141 620,1011 C610,1141 600,1281 580,1401 L515,1409 C490,1341 480,1241 478,1141 C475,991 478,861 485,786 Z" fill="#4d65b0"/>
<path d="M585,901 C600,961 615,1001 620,1021 M695,801 C705,831 715,851 728,866 M765,1381 L830,1366" fill="none" stroke="#3c509a" stroke-width="5"/>
<path d="M450,390 C420,420 395,490 385,560 C380,620 410,660 440,690 L450,560 Z" fill="#e8d5c4"/>
<path d="M530,330 L620,330 L620,791 L515,791 Z" fill="#e8d5c4"/>
<path d="M545,310 C500,330 460,360 448,390 C440,470 445,560 440,660 C438,720 445,761 460,801 L510,816 C525,761 530,700 520,640 C515,560 540,470 545,400 Z" fill="#a74436"/>
<path d="M640,280 L665,290 C700,320 750,340 775,380 C795,420 800,470 802,520 L790,600 C780,680 770,751 765,786 L640,816 L605,791 C600,700 610,620 600,560 C595,480 605,400 612,340 Z" fill="#a74436"/>
<path d="M450,385 C480,395 515,395 545,385 M448,515 C480,525 500,525 522,518 M442,650 C470,665 500,668 520,660 M612,395 C650,395 680,390 700,380 M605,515 C640,525 670,520 695,505 M612,680 C650,680 700,665 730,650" fill="none" stroke="#7e2c22" stroke-width="5"/>
<path d="M520,310 C525,330 535,345 548,350 L560,320 Z M640,282 L662,290 C655,320 640,340 615,352 L605,325 Z" fill="#a74436"/>
<path d="M700,368 C740,360 772,400 788,470 C815,580 845,700 858,781 C850,811 830,826 805,826 C792,761 772,700 752,640 C730,580 702,520 692,470 Z" fill="#e8d5c4"/>
<path d="M700,470 C710,530 730,580 745,600" fill="none" stroke="#cdb8a6" stroke-width="4"/>
<path d="M555,290 L625,280 L620,335 L560,340 Z" fill="#f09a70"/>
<path d="M558,328 C575,340 595,340 612,332 L612,350 C595,356 575,356 558,346 Z" fill="#2a3568"/>
<path d="M528,190 L640,200 L645,250 C640,290 610,312 575,312 C545,310 528,290 526,262 C522,240 526,215 528,190 Z" fill="#f09a70"/>
<path d="M618,215 L655,225 L652,265 L632,268 Z" fill="#a86a48"/>
<circle cx="535" cy="225" r="6.5" fill="#1c1c1c"/><circle cx="568" cy="225" r="6.5" fill="#1c1c1c"/>
<path d="M540,268 C550,274 560,272 566,266" fill="none" stroke="#8a3a28" stroke-width="4"/>
<path d="M525,185 C522,140 560,115 605,120 C650,125 675,160 670,200 L662,228 C620,205 570,190 525,185 Z" fill="#3b3547"/>
<path d="M560,128 L552,185 M600,122 L598,195 M640,135 L640,212" stroke="#2a2535" stroke-width="4"/>
<path d="M800,876 C770,941 730,1041 730,1121 C740,1191 800,1231 850,1226 C900,1221 940,1201 955,1171 L860,841 Z" fill="#1f2d5e"/>
<path d="M822,866 C815,941 790,1061 780,1141 C800,1181 860,1196 920,1181 C970,1166 1010,1131 1015,1086 C990,1011 920,921 870,851 C880,891 880,926 850,936 C830,931 825,901 822,866 Z" fill="#b8a5a0"/>
<path d="M838,1041 L930,1003 L958,1076 L848,1119 Z" fill="#4d65b0"/>
<path d="M862,1051 L870,1106 M920,1026 L935,1076" stroke="#3a2a6a" stroke-width="4"/>
<path d="M805,826 C820,819 845,819 858,831 C865,846 860,866 848,873 C830,876 812,866 808,851 Z" fill="#f09a70"/>
<path d="M420,540 C430,530 440,530 448,535 L448,580 C435,585 425,575 420,560 Z" fill="#f09a70"/>
</g>
</g>

<!-- presenter -->
<g id="presenter" transform="translate(870,1310) scale(0.228070)">
<path d="M326,640 V1194 M326,1010 L205,1194 M326,1010 L450,1194" stroke="#4a64a0" stroke-width="14" fill="none"/>
<rect x="57" y="68" width="533" height="564" fill="#e9e9e9"/>
<rect x="54" y="61" width="539" height="14" rx="4" fill="#4a64a0"/>
<rect x="54" y="627" width="539" height="14" rx="4" fill="#4a64a0"/>
<rect x="138" y="198" width="120" height="342" fill="#25335d"/>
<rect x="268" y="329" width="120" height="211" fill="#4d65b0"/>
<rect x="400" y="395" width="119" height="145" fill="#a74537"/>
<path d="M630,1190 C635,1165 680,1155 715,1145 L750,1145 L748,1192 Z" fill="#7a8a94"/>
<path d="M790,1198 C790,1170 830,1155 860,1140 L905,1135 L905,1180 Z" fill="#7a8a94"/>
<path d="M712,1135 L750,1135 L748,1152 L715,1152 Z M860,1130 L900,1128 L898,1145 L862,1148 Z" fill="#3a3a44"/>
<path d="M718,670 L910,670 C910,820 915,970 915,1130 L857,1137 C840,1020 825,870 812,720 C800,870 780,1020 768,1138 L708,1135 C708,970 712,820 718,670 Z" fill="#4a4577"/>
<path d="M800,300 L865,300 C900,310 930,318 945,325 C985,380 1005,450 1012,505 C1010,540 960,560 915,572 L915,680 L712,682 L716,460 C690,480 660,498 635,500 C615,500 600,492 495,402 L522,368 C560,400 590,425 612,432 C650,400 700,350 760,322 Z" fill="#4a4577"/>
<path d="M720,470 L714,680 M770,320 C790,380 805,430 820,460 M880,305 C860,380 840,440 820,468 L815,675 M920,440 C925,470 935,490 945,500" fill="none" stroke="#39356a" stroke-width="4"/>
<path d="M800,290 L862,292 L850,380 L822,455 L808,380 Z" fill="#ffffff"/>
<path d="M812,318 L832,318 L836,340 L834,420 L822,455 L810,420 L810,340 Z" fill="#a0a8e0"/>
<path d="M770,320 L800,298 L822,460 Z M865,298 L885,306 L822,460 Z" fill="#4a4577"/>
<path d="M808,260 L860,255 L862,296 L830,312 L802,294 Z" fill="#e39a62"/>
<path d="M790,185 L880,185 C885,220 880,255 862,275 C845,292 820,292 805,280 C792,262 788,225 790,185 Z" fill="#e39a62"/>
<path d="M805,248 C820,258 838,255 848,242 C840,262 815,268 805,248 Z" fill="#ffffff"/>
<rect x="792" y="205" width="28" height="18" rx="3" fill="none" stroke="#3a2a2a" stroke-width="4"/><rect x="826" y="205" width="28" height="18" rx="3" fill="none" stroke="#3a2a2a" stroke-width="4"/><path d="M854,212 L880,208" stroke="#3a2a2a" stroke-width="4"/>
<path d="M786,195 C780,160 800,138 835,138 C870,135 895,155 896,180 C890,200 885,215 878,225 C875,200 865,185 850,182 C830,185 805,185 786,195 Z" fill="#2a2a2a"/>
<path d="M488,385 L520,360 L535,378 L500,405 Z" fill="#ffffff"/>
<path d="M432,318 C445,312 460,320 470,328 L480,316 C490,318 505,345 510,362 L488,382 C470,375 450,362 436,348 C430,340 430,328 432,318 Z" fill="#e39a62"/>
<path d="M712,497 L800,484 L812,598 L722,612 Z" fill="#c9cdd6"/>
<path d="M722,612 L806,520 L812,598 Z" fill="#b4b9c4"/>
<circle cx="760" cy="545" r="8" fill="#a0a8e0"/>
<path d="M765,548 C785,535 815,525 840,528 L848,562 C825,575 795,580 775,572 C765,565 760,556 765,548 Z" fill="#e39a62"/>
<path d="M838,525 L862,518 L870,558 L848,566 Z" fill="#ffffff"/>
</g>

<!-- logos -->
<g id="logos">
<rect x="34" y="1817.7" width="11.2" height="24" fill="#eb2d37"/>
<rect x="68.3" y="1817.7" width="11.7" height="24" fill="#eb2d37"/>
<path transform="translate(56.7,1830.3) scale(1.02)" d="M0,-10 L1.6,-6.8 L3.6,-7.8 L2.9,-3.2 L5.4,-5.6 L6,-4.2 L8.6,-4.6 L7.6,-1.6 L9,-0.8 L5,2.6 L5.6,4.4 L0.6,3.8 L0.7,9.2 L-0.7,9.2 L-0.6,3.8 L-5.6,4.4 L-5,2.6 L-9,-0.8 L-7.6,-1.6 L-8.6,-4.6 L-6,-4.2 L-5.4,-5.6 L-2.9,-3.2 L-3.6,-7.8 L-1.6,-6.8 Z" fill="#eb2d37"/>
<rect x="1079.6" y="1802" width="5.6" height="11.6" fill="#eb2d37"/>
<rect x="1097.4" y="1802" width="5.8" height="11.6" fill="#eb2d37"/>
<path transform="translate(1091.3,1808) scale(0.5)" d="M0,-10 L1.6,-6.8 L3.6,-7.8 L2.9,-3.2 L5.4,-5.6 L6,-4.2 L8.6,-4.6 L7.6,-1.6 L9,-0.8 L5,2.6 L5.6,4.4 L0.6,3.8 L0.7,9.2 L-0.7,9.2 L-0.6,3.8 L-5.6,4.4 L-5,2.6 L-9,-0.8 L-7.6,-1.6 L-8.6,-4.6 L-6,-4.2 L-5.4,-5.6 L-2.9,-3.2 L-3.6,-7.8 L-1.6,-6.8 Z" fill="#eb2d37"/>
</g>

</svg>
<div class="t b" style="left:73.06px;top:66.00px;font-size:83.06px;line-height:100px;letter-spacing:0.001px;color:#ffffff;-webkit-text-stroke:1.2px #ffffff;transform:scaleX(0.9559);">SEEING</div>
<div class="t b" style="left:77.74px;top:167.00px;font-size:65.85px;line-height:79px;letter-spacing:-0.000px;color:#ffffff;-webkit-text-stroke:0.8px #ffffff;transform:scaleX(0.9618);">DISABILITIES,</div>
<div class="t" style="left:522.74px;top:165.00px;font-size:69.83px;line-height:84px;letter-spacing:-0.000px;color:#ffffff;-webkit-text-stroke:1.8px #25335d;transform:scaleX(1.119);">2022</div>
<div class="t" style="left:242.61px;top:328.00px;font-size:25.0px;line-height:30px;letter-spacing:0.552px;transform:scaleX(1.0719);">In 2022,</div>
<div class="t b" style="left:244.07px;top:357.00px;font-size:71.25px;line-height:86px;letter-spacing:-0.001px;color:#a74537;-webkit-text-stroke:3px #a74537;transform:scaleX(1.0015);">7.4%</div>
<div class="t" style="left:435.47px;top:399.00px;font-size:25.0px;line-height:30px;letter-spacing:0.544px;color:#11264a;transform:scaleX(1.0656);">of Canadians</div>
<div class="t" style="left:242.74px;top:446.00px;font-size:25.0px;line-height:30px;letter-spacing:0.573px;transform:scaleX(1.0755);">(or almost</div>
<div class="t b" style="left:376.23px;top:439.00px;font-size:33.41px;line-height:40px;letter-spacing:-0.001px;-webkit-text-stroke:1.5px #25335d;transform:scaleX(1.1704);">2.2 million</div>
<div class="t" style="left:242.35px;top:482.00px;font-size:25.0px;line-height:30px;letter-spacing:0.400px;transform:scaleX(1.0545);">individuals) aged 15 years and</div>
<div class="t" style="left:243.17px;top:518.00px;font-size:25.0px;line-height:30px;letter-spacing:0.410px;transform:scaleX(1.06);">over had a seeing disability.</div>
<div class="t" style="left:579.58px;top:521.00px;font-size:14.36px;line-height:17px;letter-spacing:0.000px;transform:scaleX(0.8);">1</div>
<div class="t b" style="left:684.95px;top:334.00px;font-size:22.08px;line-height:26px;letter-spacing:-0.000px;-webkit-text-stroke:0.8px #25335d;transform:scaleX(1.195);">Proportion of Canadians with</div>
<div class="t b" style="left:685.99px;top:369.00px;font-size:22.08px;line-height:26px;letter-spacing:-0.000px;-webkit-text-stroke:0.8px #25335d;transform:scaleX(1.1887);">a seeing disability by age group</div>
<div class="t b" style="left:688.70px;top:416.00px;font-size:41.81px;line-height:50px;letter-spacing:0.000px;color:#a74537;-webkit-text-stroke:1.6px #a74537;transform:scaleX(1.0559);">4.3%</div>
<div class="t b" style="left:892.70px;top:416.00px;font-size:41.81px;line-height:50px;letter-spacing:-0.001px;color:#a74537;-webkit-text-stroke:1.6px #a74537;transform:scaleX(1.0549);">4.5%</div>
<div class="t" style="left:686.12px;top:467.00px;font-size:19px;line-height:23px;letter-spacing:0.446px;color:#3a4259;transform:scaleX(1.0793);">15 to 24 years</div>
<div class="t" style="left:891.01px;top:467.00px;font-size:19px;line-height:23px;letter-spacing:0.606px;color:#3a4259;transform:scaleX(1.1104);">25 to 44 years</div>
<div class="t b" style="left:687.83px;top:503.00px;font-size:43.38px;line-height:52px;letter-spacing:-0.000px;color:#a74537;-webkit-text-stroke:1.6px #a74537;transform:scaleX(1.0113);">8.9%</div>
<div class="t b" style="left:891.10px;top:503.00px;font-size:42.95px;line-height:52px;letter-spacing:0.001px;color:#a74537;-webkit-text-stroke:1.6px #a74537;transform:scaleX(0.893);">11.4%</div>
<div class="t" style="left:686.67px;top:556.00px;font-size:19px;line-height:23px;letter-spacing:0.651px;color:#3a4259;transform:scaleX(1.1189);">45 to 64 years</div>
<div class="t" style="left:891.01px;top:556.00px;font-size:19px;line-height:23px;letter-spacing:0.658px;color:#3a4259;transform:scaleX(1.1167);">65 years and over</div>
<div class="t b" style="left:70.37px;top:597.00px;font-size:72.11px;line-height:87px;letter-spacing:0.001px;-webkit-text-stroke:3px #25335d;transform:scaleX(0.9611);">18%</div>
<div class="t" style="left:217.58px;top:642.00px;font-size:25.0px;line-height:30px;letter-spacing:0.398px;transform:scaleX(1.0529);">of persons with</div>
<div class="t" style="left:71.97px;top:678.00px;font-size:25.0px;line-height:30px;letter-spacing:0.447px;transform:scaleX(1.0624);">a seeing disability needed</div>
<div class="t" style="left:72.38px;top:713.00px;font-size:25.0px;line-height:30px;letter-spacing:0.461px;transform:scaleX(1.0626);">specialized care from</div>
<div class="t" style="left:71.96px;top:748.00px;font-size:25.0px;line-height:30px;letter-spacing:0.556px;transform:scaleX(1.0755);">an ophthalmologist,</div>
<div class="t" style="left:71.96px;top:784.00px;font-size:25.0px;line-height:30px;letter-spacing:0.510px;transform:scaleX(1.0758);">optometrist or optician.</div>
<div class="t" style="left:687.75px;top:625.00px;font-size:24.3px;line-height:29px;letter-spacing:-0.000px;-webkit-text-stroke:0.5px #25335d;transform:scaleX(1.111);"><b>Women+ (8.8%)</b></div>
<div class="t" style="left:687.91px;top:660.00px;font-size:25.0px;line-height:30px;letter-spacing:0.311px;transform:scaleX(1.0401);">were more likely</div>
<div class="t" style="left:687.50px;top:695.00px;font-size:25.0px;line-height:30px;letter-spacing:0.437px;transform:scaleX(1.0513);">than <b>men+ (5.9%)</b></div>
<div class="t" style="left:687.50px;top:731.00px;font-size:25.0px;line-height:30px;letter-spacing:0.411px;transform:scaleX(1.0535);">to have a seeing</div>
<div class="t" style="left:686.65px;top:766.00px;font-size:25.0px;line-height:30px;letter-spacing:0.498px;transform:scaleX(1.0826);">disability.</div>
<div class="t" style="left:799.37px;top:768.00px;font-size:14.79px;line-height:18px;letter-spacing:0.000px;transform:scaleX(1.053);">2</div>
<div class="t b" style="left:253.36px;top:858.00px;font-size:71.68px;line-height:86px;letter-spacing:0.002px;color:#a74537;-webkit-text-stroke:3px #a74537;transform:scaleX(0.9999);">22%</div>
<div class="t" style="left:251.95px;top:940.00px;font-size:22.3px;line-height:27px;letter-spacing:0.483px;color:#11264a;transform:scaleX(1.0751);">of persons with a seeing</div>
<div class="t" style="left:251.95px;top:972.00px;font-size:22.3px;line-height:27px;letter-spacing:0.493px;color:#11264a;transform:scaleX(1.0817);">disability used specialized</div>
<div class="t" style="left:252.70px;top:1003.00px;font-size:22.3px;line-height:27px;letter-spacing:0.479px;color:#11264a;transform:scaleX(1.0752);">features on a device,</div>
<div class="t" style="left:252.32px;top:1035.00px;font-size:22.3px;line-height:27px;letter-spacing:0.487px;color:#11264a;transform:scaleX(1.0764);">specialized software or</div>
<div class="t" style="left:251.94px;top:1066.00px;font-size:22.3px;line-height:27px;letter-spacing:0.537px;color:#11264a;transform:scaleX(1.0866);">apps, or other adaptations.</div>
<div class="t b" style="left:620.63px;top:877.00px;font-size:21.68px;line-height:26px;letter-spacing:-0.000px;color:#1f2455;-webkit-text-stroke:0.8px #1f2455;transform:scaleX(1.1418);">Of these individuals...</div>
<div class="t b" style="left:623.34px;top:916.00px;font-size:42.52px;line-height:51px;letter-spacing:0.000px;color:#a74537;-webkit-text-stroke:1.6px #a74537;transform:scaleX(0.9948);">38%</div>
<div class="t" style="left:723.54px;top:916.00px;font-size:19.9px;line-height:24px;letter-spacing:0.522px;color:#11264a;transform:scaleX(1.0941);">used speech-to-text, text-to-speech</div>
<div class="t" style="left:724.23px;top:942.00px;font-size:19.9px;line-height:24px;letter-spacing:0.418px;color:#11264a;transform:scaleX(1.0749);">or voice recognition software</div>
<div class="t b" style="left:622.10px;top:977.00px;font-size:42.24px;line-height:51px;letter-spacing:-0.001px;color:#a74537;-webkit-text-stroke:1.6px #a74537;transform:scaleX(0.9828);">29%</div>
<div class="t" style="left:723.56px;top:990.00px;font-size:19.9px;line-height:24px;letter-spacing:0.461px;color:#11264a;transform:scaleX(1.0794);">used screen magnification software</div>
<div class="t b" style="left:621.72px;top:1035.00px;font-size:40.82px;line-height:49px;letter-spacing:-0.002px;color:#a74537;-webkit-text-stroke:1.6px #a74537;transform:scaleX(0.8935);">12%</div>
<div class="t" style="left:723.58px;top:1046.00px;font-size:19.9px;line-height:24px;letter-spacing:0.391px;color:#11264a;transform:scaleX(1.0636);">used a screen reader</div>
<div class="t" style="left:72.90px;top:1143.00px;font-size:25.0px;line-height:30px;letter-spacing:0.311px;transform:scaleX(1.0404);">Approximately 6 in 10 <b>(63%)</b></div>
<div class="t" style="left:71.25px;top:1178.00px;font-size:25.0px;line-height:30px;letter-spacing:0.421px;transform:scaleX(1.0548);">persons with a more severe</div>
<div class="t" style="left:72.49px;top:1214.00px;font-size:25.0px;line-height:30px;letter-spacing:0.367px;transform:scaleX(1.0506);">seeing disability <b>received help</b></div>
<div class="t b" style="left:444.57px;top:1219.00px;font-size:11.8px;line-height:14px;letter-spacing:0.000px;transform:scaleX(1.3);">3</div>
<div class="t" style="left:73.30px;top:1249.00px;font-size:25.0px;line-height:30px;letter-spacing:0.262px;transform:scaleX(1.0344);"><b>with at least one type of</b></div>
<div class="t" style="left:72.07px;top:1284.00px;font-size:25.0px;line-height:30px;letter-spacing:0.528px;transform:scaleX(1.0679);"><b>everyday activity</b>, compared</div>
<div class="t" style="left:72.90px;top:1320.00px;font-size:25.0px;line-height:30px;letter-spacing:0.249px;transform:scaleX(1.0335);">to 4 in 10 <b>(43%)</b> of persons</div>
<div class="t" style="left:73.31px;top:1355.00px;font-size:25.0px;line-height:30px;letter-spacing:0.288px;transform:scaleX(1.0386);">with a less severe</div>
<div class="t" style="left:72.48px;top:1391.00px;font-size:25.0px;line-height:30px;letter-spacing:0.427px;transform:scaleX(1.065);">seeing disability.</div>
<div class="t b" style="left:533.23px;top:1137.00px;font-size:72.53px;line-height:87px;letter-spacing:0.002px;-webkit-text-stroke:3px #25335d;transform:scaleX(1.0286);">36%</div>
<div class="t" style="left:697.37px;top:1183.00px;font-size:25.0px;line-height:30px;letter-spacing:0.525px;transform:scaleX(1.0659);">of employed persons aged</div>
<div class="t" style="left:529.76px;top:1219.00px;font-size:25.0px;line-height:30px;letter-spacing:0.390px;transform:scaleX(1.0567);">25 to 64 with a seeing disability required one</div>
<div class="t" style="left:530.17px;top:1254.00px;font-size:25.0px;line-height:30px;letter-spacing:0.480px;transform:scaleX(1.0564);">or more <b>workplace accommodation</b>.</div>
<div class="t b" style="left:530.33px;top:1306.00px;font-size:21.68px;line-height:26px;letter-spacing:0.000px;-webkit-text-stroke:0.8px #25335d;transform:scaleX(1.1413);">Of these individuals...</div>
<div class="t b" style="left:533.21px;top:1352.00px;font-size:40.11px;line-height:48px;letter-spacing:0.000px;color:#a74537;-webkit-text-stroke:1.6px #a74537;transform:scaleX(1.0324);">26%</div>
<div class="t" style="left:628.82px;top:1356.00px;font-size:17.5px;line-height:21px;letter-spacing:0.379px;color:#11264a;transform:scaleX(1.0783);">required flexible work</div>
<div class="t" style="left:629.39px;top:1377.00px;font-size:17.5px;line-height:21px;letter-spacing:0.648px;color:#11264a;transform:scaleX(1.1113);">arrangements</div>
<div class="t b" style="left:532.13px;top:1411.00px;font-size:38.68px;line-height:46px;letter-spacing:0.002px;color:#a74537;-webkit-text-stroke:1.6px #a74537;transform:scaleX(0.9818);">16%</div>
<div class="t" style="left:628.80px;top:1414.00px;font-size:17.5px;line-height:21px;letter-spacing:0.484px;color:#11264a;transform:scaleX(1.0972);">required workstation</div>
<div class="t" style="left:628.78px;top:1434.00px;font-size:17.5px;line-height:21px;letter-spacing:0.583px;color:#11264a;transform:scaleX(1.1165);">modifications</div>
<div class="t b" style="left:531.99px;top:1474.00px;font-size:39.25px;line-height:47px;letter-spacing:-0.001px;color:#a74537;-webkit-text-stroke:1.6px #a74537;transform:scaleX(0.8599);">11%</div>
<div class="t" style="left:628.80px;top:1475.00px;font-size:17.5px;line-height:21px;letter-spacing:0.518px;color:#11264a;transform:scaleX(1.1012);">required other equipment</div>
<div class="t" style="left:629.40px;top:1495.00px;font-size:17.5px;line-height:21px;letter-spacing:0.562px;color:#11264a;transform:scaleX(1.1023);">or arrangements</div>
<div class="t" style="left:34.27px;top:1603.00px;font-size:13.65px;line-height:16px;letter-spacing:0.000px;color:#000000;-webkit-text-stroke:0.25px #000000;">1.</div>
<div class="t" style="left:51.12px;top:1603.00px;font-size:13.65px;line-height:16px;letter-spacing:0.041px;color:#000000;-webkit-text-stroke:0.25px #000000;transform:scaleX(1.0108);">A person is defined as having a seeing disability if their daily activities are limited because of difficulties with their vision. Since disability types are not mutually exclusive,</div>
<div class="t" style="left:50.69px;top:1620.00px;font-size:13.65px;line-height:16px;letter-spacing:0.039px;color:#000000;-webkit-text-stroke:0.25px #000000;transform:scaleX(1.0096);">a person may experience more than one disability at a time.</div>
<div class="t" style="left:33.49px;top:1642.00px;font-size:13.65px;line-height:16px;letter-spacing:0.000px;color:#000000;-webkit-text-stroke:0.25px #000000;">2.</div>
<div class="t" style="left:50.91px;top:1642.00px;font-size:13.65px;line-height:16px;letter-spacing:0.039px;color:#000000;-webkit-text-stroke:0.25px #000000;transform:scaleX(1.0092);">The “women+” category includes women as well as some non-binary persons, while the “men+” category includes men as well as some non-binary persons.</div>
<div class="t" style="left:33.70px;top:1664.00px;font-size:13.65px;line-height:16px;letter-spacing:0.000px;color:#000000;-webkit-text-stroke:0.25px #000000;">3.</div>
<div class="t" style="left:50.04px;top:1664.00px;font-size:13.65px;line-height:16px;letter-spacing:0.061px;color:#000000;-webkit-text-stroke:0.25px #000000;transform:scaleX(1.0155);">Includes paid or unpaid help received from family, friends, neighbours or organizations.</div>
<div class="t" style="left:33.27px;top:1685.00px;font-size:13.65px;line-height:16px;letter-spacing:0.027px;color:#000000;-webkit-text-stroke:0.25px #000000;transform:scaleX(1.0067);"><b>Note:</b> The Canadian Survey on Disability covers Canadians aged 15 years and over who experience limitations in their daily activities because of a long-term condition or</div>
<div class="t" style="left:33.24px;top:1703.00px;font-size:13.65px;line-height:16px;letter-spacing:0.149px;color:#000000;-webkit-text-stroke:0.25px #000000;transform:scaleX(1.0367);">health-related problem.</div>
<div class="t" style="left:33.91px;top:1727.00px;font-size:13.65px;line-height:16px;letter-spacing:-0.036px;color:#000000;-webkit-text-stroke:0.25px #000000;transform:scaleX(0.9915);"><b>Source:</b> Statistics Canada, Canadian Survey on Disability, 2022.</div>
<div class="t" style="left:34.12px;top:1750.00px;font-size:13.65px;line-height:16px;letter-spacing:0.020px;color:#000000;-webkit-text-stroke:0.25px #000000;transform:scaleX(1.0049);">© His Majesty the King in Right of Canada, as represented by the Minister of Industry, 2025</div>
<div class="t" style="left:102.43px;top:1816.00px;font-size:13.08px;line-height:16px;letter-spacing:0.095px;color:#000000;-webkit-text-stroke:0.3px #000000;transform:scaleX(1.0254);">Statistics</div>
<div class="t" style="left:102.23px;top:1830.00px;font-size:13.08px;line-height:16px;letter-spacing:0.080px;color:#000000;-webkit-text-stroke:0.3px #000000;transform:scaleX(1.0134);">Canada</div>
<div class="t" style="left:178.73px;top:1816.00px;font-size:13.08px;line-height:16px;letter-spacing:0.111px;color:#000000;-webkit-text-stroke:0.3px #000000;transform:scaleX(1.0286);">Statistique</div>
<div class="t" style="left:178.52px;top:1830.00px;font-size:13.08px;line-height:16px;letter-spacing:0.164px;color:#000000;-webkit-text-stroke:0.3px #000000;transform:scaleX(1.028);">Canada</div>
<div class="t" style="left:491.50px;top:1815.00px;font-size:19.5px;line-height:23px;letter-spacing:-0.001px;color:#000000;transform:scaleX(0.9765);">www.statcan.gc.ca</div>
<div class="t b" style="left:943.74px;top:1789.00px;font-size:53.33px;line-height:64px;letter-spacing:-0.000px;color:#000000;font-family:'Liberation Serif', serif;transform:scaleX(0.9046);">Canada</div>
<div class="t b" style="left:905.56px;top:1356.00px;font-size:16.36px;line-height:20px;letter-spacing:0.000px;color:#ffffff;-webkit-text-stroke:0.6px #ffffff;transform:scaleX(1.0591);">26</div>
<div class="t b" style="left:936.73px;top:1388.00px;font-size:15.22px;line-height:18px;letter-spacing:0.000px;color:#ffffff;-webkit-text-stroke:0.6px #ffffff;transform:scaleX(0.9103);">16</div>
<div class="t b" style="left:968.02px;top:1407.00px;font-size:15.5px;line-height:19px;letter-spacing:-2.031px;color:#ffffff;-webkit-text-stroke:0.6px #ffffff;transform:scaleX(0.8);">11</div>
</div>
</body>
</html>
